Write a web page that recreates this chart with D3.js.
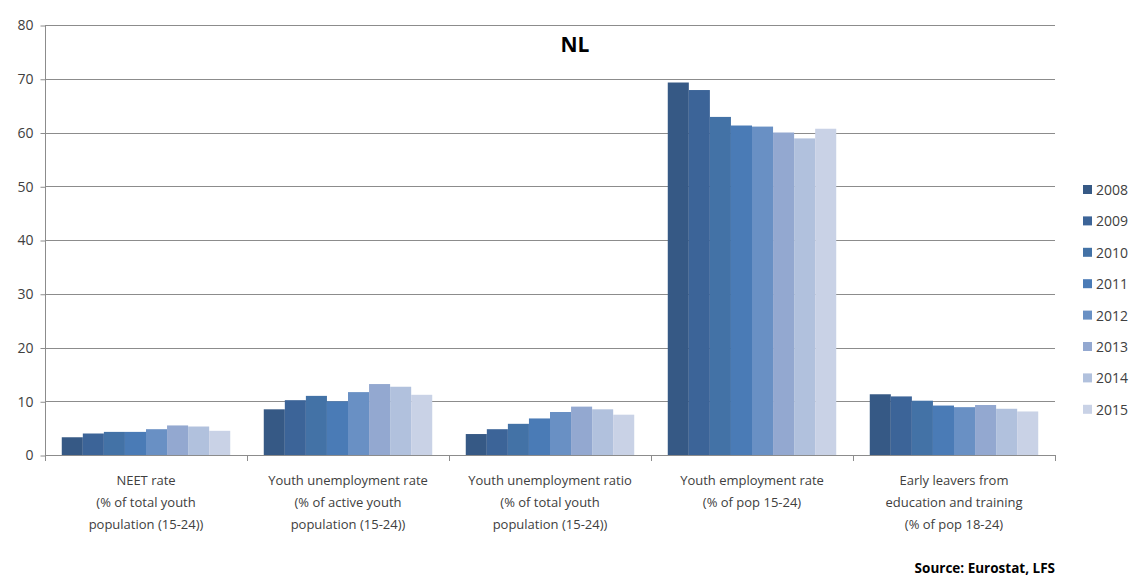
<!DOCTYPE html>
<html>
<head>
<meta charset="utf-8">
<script src="https://cdn.jsdelivr.net/npm/d3@7"></script>
<style>
  body { margin: 0; background: #fff; }
  svg text { font-family: "Open Sans", "DejaVu Sans", sans-serif; fill: #404040; }
</style>
</head>
<body>
<svg id="chart" width="1133" height="576"></svg>
<script>
// categories (each label split into lines)
var categories = [
  ["NEET rate", "(% of total youth", "population (15-24))"],
  ["Youth unemployment rate", "(% of active youth", "population (15-24))"],
  ["Youth unemployment ratio", "(% of total youth", "population (15-24))"],
  ["Youth employment rate", "(% of pop 15-24)"],
  ["Early leavers from", "education and training", "(% of pop 18-24)"]
];
var years = ["2008", "2009", "2010", "2011", "2012", "2013", "2014", "2015"];

// one array per year, values per category
var v2008 = [3.3, 8.5, 3.9, 69.3, 11.3];
var v2009 = [4.0, 10.2, 4.8, 67.9, 10.9];
var v2010 = [4.3, 11.0, 5.8, 62.9, 10.1];
var v2011 = [4.3, 10.0, 6.8, 61.3, 9.2];
var v2012 = [4.8, 11.7, 8.0, 61.1, 8.9];
var v2013 = [5.5, 13.2, 9.0, 60.0, 9.3];
var v2014 = [5.3, 12.7, 8.5, 58.9, 8.6];
var v2015 = [4.5, 11.2, 7.5, 60.7, 8.1];
var series = [v2008, v2009, v2010, v2011, v2012, v2013, v2014, v2015];

var yTicks = [0, 10, 20, 30, 40, 50, 60, 70, 80];
var colors = ["#365985", "#3c6498", "#4372a6", "#4a7bb6", "#6990c4", "#93a8d0", "#b1c1dd", "#c9d2e6"];

var svg = d3.select("#chart");
var plotLeft = 45, plotRight = 1055, plotTop = 25, plotBottom = 455;

var y = d3.scaleLinear().domain([0, 80]).range([plotBottom, plotTop]);
var x0 = d3.scaleBand().domain(d3.range(categories.length)).range([plotLeft, plotRight]).padding(0);
var x1 = d3.scaleBand().domain(years)
  .range([x0.bandwidth() * 0.083, x0.bandwidth() * 0.917]).padding(0);

// gridlines
svg.append("g").selectAll("line")
  .data(yTicks.slice(1))
  .enter().append("line")
  .attr("x1", plotLeft).attr("x2", plotRight)
  .attr("y1", function(d) { return Math.round(y(d)) + 0.5; })
  .attr("y2", function(d) { return Math.round(y(d)) + 0.5; })
  .attr("stroke", "#8c8c8c").attr("stroke-width", 1);

// bars
var groups = svg.append("g").selectAll("g")
  .data(categories.map(function(c, i) { return i; }))
  .enter().append("g")
  .attr("transform", function(i) { return "translate(" + x0(i) + ",0)"; });

groups.selectAll("rect")
  .data(function(i) { return years.map(function(yr, k) { return { year: yr, k: k, v: series[k][i] }; }); })
  .enter().append("rect")
  .attr("x", function(d) { return x1(d.year); })
  .attr("width", x1.bandwidth())
  .attr("y", function(d) { return y(d.v); })
  .attr("height", function(d) { return y(0) - y(d.v); })
  .attr("fill", function(d) { return colors[d.k]; });

// y axis
var yAxis = svg.append("g")
  .attr("transform", "translate(" + (plotLeft + 0.5) + ",0.5)")
  .call(d3.axisLeft(y).tickValues(yTicks).tickSize(5).tickPadding(7));
yAxis.select(".domain").attr("stroke", "#8c8c8c").attr("d", "M0," + plotTop + "V" + plotBottom);
yAxis.selectAll(".tick line").attr("stroke", "#8c8c8c");
yAxis.selectAll(".tick text").style("font-size", "14px").style("fill", "#404040");

// x axis: baseline + ticks at category boundaries
var xa = svg.append("g");
xa.append("line")
  .attr("x1", plotLeft).attr("x2", plotRight)
  .attr("y1", plotBottom + 0.5).attr("y2", plotBottom + 0.5)
  .attr("stroke", "#8c8c8c");
xa.selectAll("line.tk")
  .data(d3.range(categories.length + 1))
  .enter().append("line").attr("class", "tk")
  .attr("x1", function(i) { return (i < categories.length ? x0(i) : plotRight) + 0.5; })
  .attr("x2", function(i) { return (i < categories.length ? x0(i) : plotRight) + 0.5; })
  .attr("y1", plotBottom).attr("y2", plotBottom + 6)
  .attr("stroke", "#8c8c8c");

var labels = xa.selectAll("text.cat")
  .data(categories)
  .enter().append("text").attr("class", "cat")
  .attr("text-anchor", "middle")
  .style("font-size", "13px")
  .attr("transform", function(d, i) { return "translate(" + (x0(i) + x0.bandwidth() / 2) + ",485)"; });
labels.selectAll("tspan")
  .data(function(d) { return d; })
  .enter().append("tspan")
  .attr("x", 0)
  .attr("y", function(d, j) { return j * 22; })
  .text(function(d) { return d; });

// title
svg.append("text")
  .attr("x", 575).attr("y", 52)
  .attr("text-anchor", "middle")
  .style("font-size", "21px").style("font-weight", "bold")
  .style("fill", "#000")
  .text("NL");

// legend
var legend = svg.append("g").selectAll("g")
  .data(years)
  .enter().append("g")
  .attr("transform", function(d, i) { return "translate(1083," + (190 + i * 31.4) + ")"; });
legend.append("rect")
  .attr("x", 0).attr("y", -5).attr("width", 9).attr("height", 9)
  .attr("fill", function(d, i) { return colors[i]; });
legend.append("text")
  .attr("x", 13).attr("y", 5)
  .style("font-size", "14px")
  .text(function(d) { return d; });

// source
svg.append("text")
  .attr("x", 1055).attr("y", 573)
  .attr("text-anchor", "end")
  .style("font-size", "13.5px").style("font-weight", "bold")
  .style("fill", "#000")
  .text("Source: Eurostat, LFS");
</script>
</body>
</html>
